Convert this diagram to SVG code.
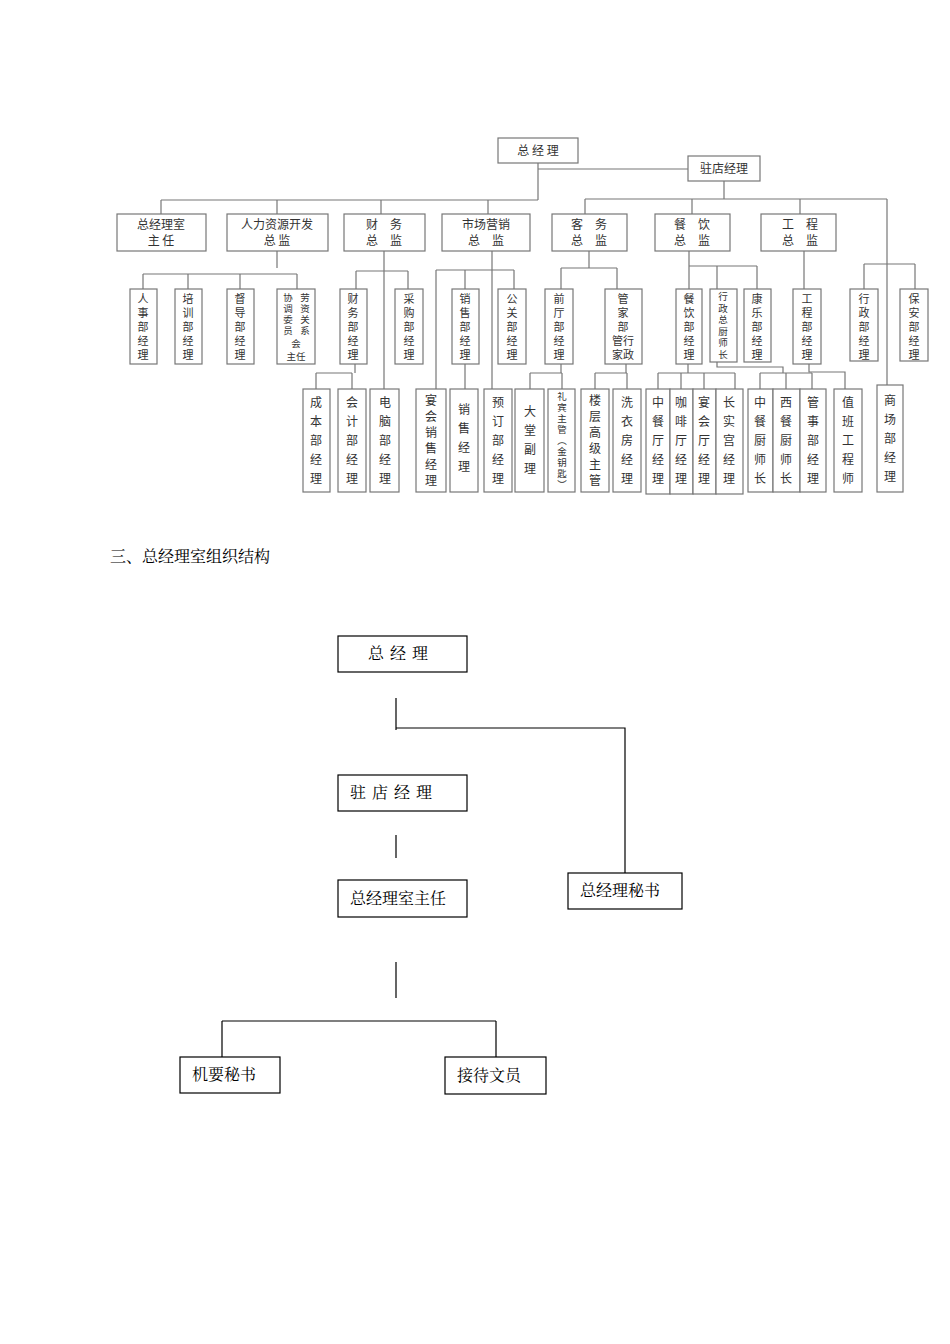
<svg xmlns="http://www.w3.org/2000/svg" width="950" height="1344" viewBox="0 0 950 1344">
<style>
.b{fill:#fff;stroke:#777;stroke-width:1.2}
.l{fill:none;stroke:#777;stroke-width:1.2}
.t{font-family:"Noto Sans CJK SC","Liberation Serif",serif;font-size:12px;fill:#333;text-anchor:middle}
.v{font-family:"Noto Sans CJK SC","Liberation Serif",serif;font-size:11px;fill:#333;text-anchor:middle}
.s{font-family:"Noto Sans CJK SC","Liberation Serif",serif;font-size:9.5px;fill:#333;text-anchor:middle}
.w{font-family:"Noto Sans CJK SC","Liberation Serif",serif;font-size:12px;fill:#333;text-anchor:middle}
.B{fill:#fff;stroke:#000;stroke-width:1.2}
.L{fill:none;stroke:#000;stroke-width:1.2}
.T{font-family:"Noto Serif CJK SC","Noto Sans CJK SC",serif;font-size:16px;fill:#000}
</style>
<rect width="950" height="1344" fill="#fff"/>
<g id="connectors">
<path class="l" d="M538 163V200M538 169H688M161 200H538M161 200V214M277 200V214M381 200V214M488 200V214"/>
<path class="l" d="M724 181V199M585 199H887M585 199V214M692 199V214M800 199V214M887 199V385"/>
<path class="l" d="M277 251V268M143 274H297M143 274V289M188 274V289M240 274V289M297 274V289"/>
<path class="l" d="M384 251V389M356 271H408M356 271V289M408 271V289M355 364V373M316 373H352M316 373V389M352 373V389"/>
<path class="l" d="M492 251V389M436 270H514M436 270V389M465 270V289M514 270V289M465 364V389"/>
<path class="l" d="M589 251V268M561 268H617M561 268V289M617 268V289M561 364V373M530 373H562M530 373V389M562 373V389M626 364V373M595 373H627M595 373V389M627 373V389"/>
<path class="l" d="M689 251V289M689 266H757M717 266V289M757 266V289M688 364V373M658 373H735M658 373V389M681 373V389M704 373V389M735 373V389"/>
<path class="l" d="M717 362V367H783V373M760 373H812M760 373V389M786 373V389M812 373V389"/>
<path class="l" d="M804 251V289M809 364V372H845V389M864 264H915M864 264V289M915 264V289"/>
<path class="L" d="M396 698V730M396 728H625V877M396 835V858M396 962V998M222 1021H496M222 1021V1057M496 1021V1057"/>
</g>
<g id="n-gm"><rect class="b" x="498" y="138" width="80" height="25"/><text class="t" x="538" y="155">总 经 理</text></g>
<g id="n-rm"><rect class="b" x="688" y="156" width="72" height="25"/><text class="t" x="724" y="173">驻店经理</text></g>
<g id="n-l2">
<rect class="b" x="117" y="214" width="89" height="37"/><text class="t" x="161" y="229">总经理室</text><text class="t" x="161" y="245">主 任</text>
<rect class="b" x="227" y="214" width="101" height="37"/><text class="t" x="277" y="229">人力资源开发</text><text class="t" x="277" y="245">总 监</text>
<rect class="b" x="344" y="214" width="81" height="37"/><text class="t" x="384" y="229">财　务</text><text class="t" x="384" y="245">总　监</text>
<rect class="b" x="442" y="214" width="88" height="37"/><text class="t" x="486" y="229">市场营销</text><text class="t" x="486" y="245">总　监</text>
<rect class="b" x="552" y="214" width="75" height="37"/><text class="t" x="589" y="229">客　务</text><text class="t" x="589" y="245">总　监</text>
<rect class="b" x="655" y="214" width="75" height="37"/><text class="t" x="692" y="229">餐　饮</text><text class="t" x="692" y="245">总　监</text>
<rect class="b" x="761" y="214" width="75" height="37"/><text class="t" x="800" y="229">工　程</text><text class="t" x="800" y="245">总　监</text>
</g>
<g id="n-l3">
<rect class="b" x="130" y="289" width="27" height="75"/><text class="v" x="143" y="303"><tspan x="143">人</tspan><tspan x="143" dy="14">事</tspan><tspan x="143" dy="14">部</tspan><tspan x="143" dy="14">经</tspan><tspan x="143" dy="14">理</tspan></text>
<rect class="b" x="175" y="289" width="27" height="75"/><text class="v" x="188" y="303"><tspan x="188">培</tspan><tspan x="188" dy="14">训</tspan><tspan x="188" dy="14">部</tspan><tspan x="188" dy="14">经</tspan><tspan x="188" dy="14">理</tspan></text>
<rect class="b" x="227" y="289" width="27" height="75"/><text class="v" x="240" y="303"><tspan x="240">督</tspan><tspan x="240" dy="14">导</tspan><tspan x="240" dy="14">部</tspan><tspan x="240" dy="14">经</tspan><tspan x="240" dy="14">理</tspan></text>
<rect class="b" x="277" y="289" width="38" height="75"/>
<text class="s" x="288" y="301"><tspan x="288">协</tspan><tspan x="288" dy="11">调</tspan><tspan x="288" dy="11">委</tspan><tspan x="288" dy="11">员</tspan></text>
<text class="s" x="305" y="301"><tspan x="305">劳</tspan><tspan x="305" dy="11">资</tspan><tspan x="305" dy="11">关</tspan><tspan x="305" dy="11">系</tspan></text>
<text class="s" x="296" y="347">会</text><text class="s" x="296" y="360">主任</text>
<rect class="b" x="340" y="289" width="27" height="75"/><text class="v" x="353" y="303"><tspan x="353">财</tspan><tspan x="353" dy="14">务</tspan><tspan x="353" dy="14">部</tspan><tspan x="353" dy="14">经</tspan><tspan x="353" dy="14">理</tspan></text>
<rect class="b" x="395" y="289" width="28" height="75"/><text class="v" x="409" y="303"><tspan x="409">采</tspan><tspan x="409" dy="14">购</tspan><tspan x="409" dy="14">部</tspan><tspan x="409" dy="14">经</tspan><tspan x="409" dy="14">理</tspan></text>
<rect class="b" x="452" y="289" width="27" height="75"/><text class="v" x="465" y="303"><tspan x="465">销</tspan><tspan x="465" dy="14">售</tspan><tspan x="465" dy="14">部</tspan><tspan x="465" dy="14">经</tspan><tspan x="465" dy="14">理</tspan></text>
<rect class="b" x="498" y="289" width="28" height="75"/><text class="v" x="512" y="303"><tspan x="512">公</tspan><tspan x="512" dy="14">关</tspan><tspan x="512" dy="14">部</tspan><tspan x="512" dy="14">经</tspan><tspan x="512" dy="14">理</tspan></text>
<rect class="b" x="545" y="289" width="28" height="75"/><text class="v" x="559" y="303"><tspan x="559">前</tspan><tspan x="559" dy="14">厅</tspan><tspan x="559" dy="14">部</tspan><tspan x="559" dy="14">经</tspan><tspan x="559" dy="14">理</tspan></text>
<rect class="b" x="605" y="289" width="37" height="75"/><text class="v" x="623" y="303"><tspan x="623">管</tspan><tspan x="623" dy="14">家</tspan><tspan x="623" dy="14">部</tspan><tspan x="623" dy="14">管行</tspan><tspan x="623" dy="14">家政</tspan></text>
<rect class="b" x="676" y="289" width="26" height="75"/><text class="v" x="689" y="303"><tspan x="689">餐</tspan><tspan x="689" dy="14">饮</tspan><tspan x="689" dy="14">部</tspan><tspan x="689" dy="14">经</tspan><tspan x="689" dy="14">理</tspan></text>
<rect class="b" x="710" y="289" width="27" height="73"/><text class="s" x="723" y="300"><tspan x="723">行</tspan><tspan x="723" dy="11.5">政</tspan><tspan x="723" dy="11.5">总</tspan><tspan x="723" dy="11.5">厨</tspan><tspan x="723" dy="11.5">师</tspan><tspan x="723" dy="11.5">长</tspan></text>
<rect class="b" x="744" y="289" width="27" height="73"/><text class="v" x="757" y="303"><tspan x="757">康</tspan><tspan x="757" dy="14">乐</tspan><tspan x="757" dy="14">部</tspan><tspan x="757" dy="14">经</tspan><tspan x="757" dy="14">理</tspan></text>
<rect class="b" x="793" y="289" width="28" height="75"/><text class="v" x="807" y="303"><tspan x="807">工</tspan><tspan x="807" dy="14">程</tspan><tspan x="807" dy="14">部</tspan><tspan x="807" dy="14">经</tspan><tspan x="807" dy="14">理</tspan></text>
<rect class="b" x="850" y="289" width="28" height="72"/><text class="v" x="864" y="303"><tspan x="864">行</tspan><tspan x="864" dy="14">政</tspan><tspan x="864" dy="14">部</tspan><tspan x="864" dy="14">经</tspan><tspan x="864" dy="14">理</tspan></text>
<rect class="b" x="900" y="289" width="28" height="72"/><text class="v" x="914" y="303"><tspan x="914">保</tspan><tspan x="914" dy="14">安</tspan><tspan x="914" dy="14">部</tspan><tspan x="914" dy="14">经</tspan><tspan x="914" dy="14">理</tspan></text>
</g>
<g id="n-l4">
<rect class="b" x="303" y="389" width="27" height="103"/><text class="w" x="316" y="407"><tspan x="316">成</tspan><tspan x="316" dy="19">本</tspan><tspan x="316" dy="19">部</tspan><tspan x="316" dy="19">经</tspan><tspan x="316" dy="19">理</tspan></text>
<rect class="b" x="338" y="389" width="28" height="103"/><text class="w" x="352" y="407"><tspan x="352">会</tspan><tspan x="352" dy="19">计</tspan><tspan x="352" dy="19">部</tspan><tspan x="352" dy="19">经</tspan><tspan x="352" dy="19">理</tspan></text>
<rect class="b" x="370" y="389" width="29" height="103"/><text class="w" x="385" y="407"><tspan x="385">电</tspan><tspan x="385" dy="19">脑</tspan><tspan x="385" dy="19">部</tspan><tspan x="385" dy="19">经</tspan><tspan x="385" dy="19">理</tspan></text>
<rect class="b" x="416" y="389" width="30" height="103"/><text class="w" x="431" y="405"><tspan x="431">宴</tspan><tspan x="431" dy="16">会</tspan><tspan x="431" dy="16">销</tspan><tspan x="431" dy="16">售</tspan><tspan x="431" dy="16">经</tspan><tspan x="431" dy="16">理</tspan></text>
<rect class="b" x="450" y="389" width="28" height="103"/><text class="w" x="464" y="414"><tspan x="464">销</tspan><tspan x="464" dy="19">售</tspan><tspan x="464" dy="19">经</tspan><tspan x="464" dy="19">理</tspan></text>
<rect class="b" x="484" y="389" width="28" height="103"/><text class="w" x="498" y="407"><tspan x="498">预</tspan><tspan x="498" dy="19">订</tspan><tspan x="498" dy="19">部</tspan><tspan x="498" dy="19">经</tspan><tspan x="498" dy="19">理</tspan></text>
<rect class="b" x="515" y="389" width="29" height="103"/><text class="w" x="530" y="416"><tspan x="530">大</tspan><tspan x="530" dy="19">堂</tspan><tspan x="530" dy="19">副</tspan><tspan x="530" dy="19">理</tspan></text>
<rect class="b" x="548" y="389" width="27" height="103"/><text class="s" x="562" y="400"><tspan x="562">礼</tspan><tspan x="562" dy="11">宾</tspan><tspan x="562" dy="11">主</tspan><tspan x="562" dy="11">管</tspan><tspan x="562" dy="11">︵</tspan><tspan x="562" dy="11">金</tspan><tspan x="562" dy="11">钥</tspan><tspan x="562" dy="11">匙</tspan><tspan x="562" dy="11">︶</tspan></text>
<rect class="b" x="581" y="389" width="28" height="103"/><text class="w" x="595" y="405"><tspan x="595">楼</tspan><tspan x="595" dy="16">层</tspan><tspan x="595" dy="16">高</tspan><tspan x="595" dy="16">级</tspan><tspan x="595" dy="16">主</tspan><tspan x="595" dy="16">管</tspan></text>
<rect class="b" x="613" y="389" width="28" height="103"/><text class="w" x="627" y="407"><tspan x="627">洗</tspan><tspan x="627" dy="19">衣</tspan><tspan x="627" dy="19">房</tspan><tspan x="627" dy="19">经</tspan><tspan x="627" dy="19">理</tspan></text>
<rect class="b" x="646" y="389" width="24" height="105"/><text class="w" x="658" y="407"><tspan x="658">中</tspan><tspan x="658" dy="19">餐</tspan><tspan x="658" dy="19">厅</tspan><tspan x="658" dy="19">经</tspan><tspan x="658" dy="19">理</tspan></text>
<rect class="b" x="670" y="389" width="23" height="105"/><text class="w" x="681" y="407"><tspan x="681">咖</tspan><tspan x="681" dy="19">啡</tspan><tspan x="681" dy="19">厅</tspan><tspan x="681" dy="19">经</tspan><tspan x="681" dy="19">理</tspan></text>
<rect class="b" x="693" y="389" width="23" height="105"/><text class="w" x="704" y="407"><tspan x="704">宴</tspan><tspan x="704" dy="19">会</tspan><tspan x="704" dy="19">厅</tspan><tspan x="704" dy="19">经</tspan><tspan x="704" dy="19">理</tspan></text>
<rect class="b" x="716" y="389" width="27" height="105"/><text class="w" x="729" y="407"><tspan x="729">长</tspan><tspan x="729" dy="19">实</tspan><tspan x="729" dy="19">宫</tspan><tspan x="729" dy="19">经</tspan><tspan x="729" dy="19">理</tspan></text>
<rect class="b" x="748" y="389" width="25" height="103"/><text class="w" x="760" y="407"><tspan x="760">中</tspan><tspan x="760" dy="19">餐</tspan><tspan x="760" dy="19">厨</tspan><tspan x="760" dy="19">师</tspan><tspan x="760" dy="19">长</tspan></text>
<rect class="b" x="773" y="389" width="27" height="103"/><text class="w" x="786" y="407"><tspan x="786">西</tspan><tspan x="786" dy="19">餐</tspan><tspan x="786" dy="19">厨</tspan><tspan x="786" dy="19">师</tspan><tspan x="786" dy="19">长</tspan></text>
<rect class="b" x="800" y="389" width="26" height="103"/><text class="w" x="813" y="407"><tspan x="813">管</tspan><tspan x="813" dy="19">事</tspan><tspan x="813" dy="19">部</tspan><tspan x="813" dy="19">经</tspan><tspan x="813" dy="19">理</tspan></text>
<rect class="b" x="834" y="389" width="28" height="103"/><text class="w" x="848" y="407"><tspan x="848">值</tspan><tspan x="848" dy="19">班</tspan><tspan x="848" dy="19">工</tspan><tspan x="848" dy="19">程</tspan><tspan x="848" dy="19">师</tspan></text>
<rect class="b" x="877" y="385" width="26" height="107"/><text class="w" x="890" y="405"><tspan x="890">商</tspan><tspan x="890" dy="19">场</tspan><tspan x="890" dy="19">部</tspan><tspan x="890" dy="19">经</tspan><tspan x="890" dy="19">理</tspan></text>
</g>
<text class="T" x="110" y="562">三、总经理室组织结构</text>
<g id="b-gm"><rect class="B" x="338" y="636" width="129" height="36"/><text class="T" x="368" y="659" letter-spacing="6">总经理</text></g>
<g id="b-rm"><rect class="B" x="338" y="775" width="129" height="36"/><text class="T" x="350" y="798" letter-spacing="6">驻店经理</text></g>
<g id="b-dir"><rect class="B" x="338" y="880" width="129" height="37"/><text class="T" x="350" y="904">总经理室主任</text></g>
<g id="b-sec"><rect class="B" x="568" y="873" width="114" height="36"/><text class="T" x="580" y="896">总经理秘书</text></g>
<g id="b-jy"><rect class="B" x="180" y="1057" width="100" height="36"/><text class="T" x="192" y="1080">机要秘书</text></g>
<g id="b-jd"><rect class="B" x="445" y="1057" width="101" height="37"/><text class="T" x="457" y="1081">接待文员</text></g>
</svg>
